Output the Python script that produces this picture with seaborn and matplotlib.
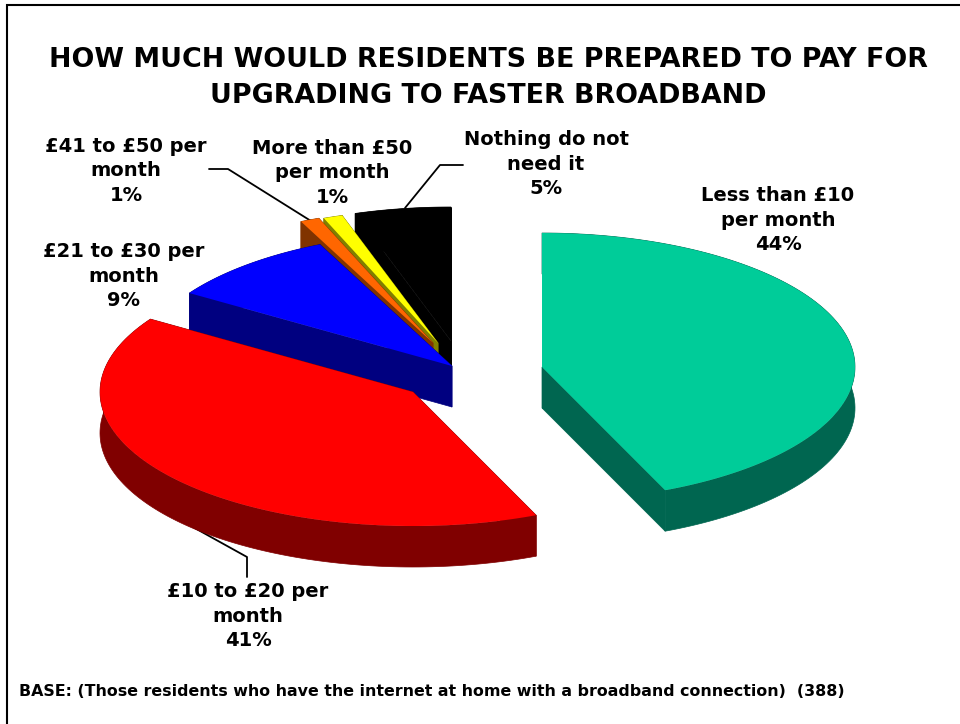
import numpy as np
import seaborn as sns
import matplotlib.pyplot as plt

# values as printed on the chart (they add up to 101, the pie normalises them)
categories = ["Less than £10\nper month", "£10 to £20 per\nmonth", "£21 to £30 per\nmonth",
              "£41 to £50 per\nmonth", "More than £50\nper month", "Nothing do not\nneed it"]
percents = [44, 41, 9, 1, 1, 5]

top_colors = ["#00CC99", "#FF0000", "#0000FF", "#FF6600", "#FFFF00", "#000000"]
side_colors = ["#006650", "#800000", "#000080", "#803300", "#808000", "#000000"]

# exploded centre of each slice, in pixels
centres = [(542, 367), (413, 392), (452, 366), (433, 343), (438, 343), (451, 341)]
label_pos = [(778, 220), (248, 616), (124, 276), (126, 171), (332, 173), (546, 164)]
leaders = [None,
           [(173, 516), (247, 557), (247, 577)],
           None,
           [(311, 221), (228, 169), (209, 169)],
           None,
           [(405, 208), (440, 165), (463, 165)]]

rx, ry, depth = 313, 134, 41

sns.set_theme(style="white")
plt.rcParams['font.family'] = ['DejaVu Sans']

fig = plt.figure(figsize=(9.6, 7.24), dpi=100)
ax = fig.add_axes([0, 0, 1, 1])
ax.set_xlim(0, 960)
ax.set_ylim(724, 0)
ax.axis("off")

# frame, open on the right and at the bottom
ax.plot([6.5, 6.5, 960], [724, 5, 5], color="black", lw=1.5, solid_joinstyle="miter")

palette = sns.color_palette(top_colors)
shade = sns.color_palette(side_colors)

edges = np.cumsum([0] + percents) / sum(percents) * 2 * np.pi

# leaders go under the pie, their ends are tucked behind the slices
for line in leaders:
    if line:
        ax.plot(*zip(*line), color="black", lw=1.3, zorder=0.5)

# back to front so the nearer slices cover the others
for i in [5, 4, 3, 2, 1, 0]:
    a = np.linspace(edges[i], edges[i + 1], 120)
    cx, cy = centres[i]
    x = cx + rx * np.sin(a)
    y = cy - ry * np.cos(a)
    # outer wall
    ax.fill(np.r_[x, x[::-1]], np.r_[y, y[::-1] + depth], color=shade[i], lw=0.5)
    # the two cut faces
    for ex, ey in [(x[0], y[0]), (x[-1], y[-1])]:
        ax.fill([cx, ex, ex, cx], [cy, ey, ey + depth, cy + depth], color=shade[i], lw=0.5)
    ax.fill(np.r_[cx, x], np.r_[cy, y], color=palette[i], lw=0)

for name, pct, (lx, ly) in zip(categories, percents, label_pos):
    ax.text(lx, ly, f"{name}\n{pct}%", ha="center", va="center", fontsize=14,
            fontweight="bold", color="black", linespacing=1.34)

ax.text(488, 78, "HOW MUCH WOULD RESIDENTS BE PREPARED TO PAY FOR\nUPGRADING TO FASTER BROADBAND",
        ha="center", va="center", fontsize=19.4, fontweight="bold", color="black", linespacing=1.48)
ax.text(19, 692, "BASE: (Those residents who have the internet at home with a broadband connection)  (388)",
        ha="left", va="center", fontsize=11.4, fontweight="bold", color="black")

plt.savefig("out.png", dpi=100)
